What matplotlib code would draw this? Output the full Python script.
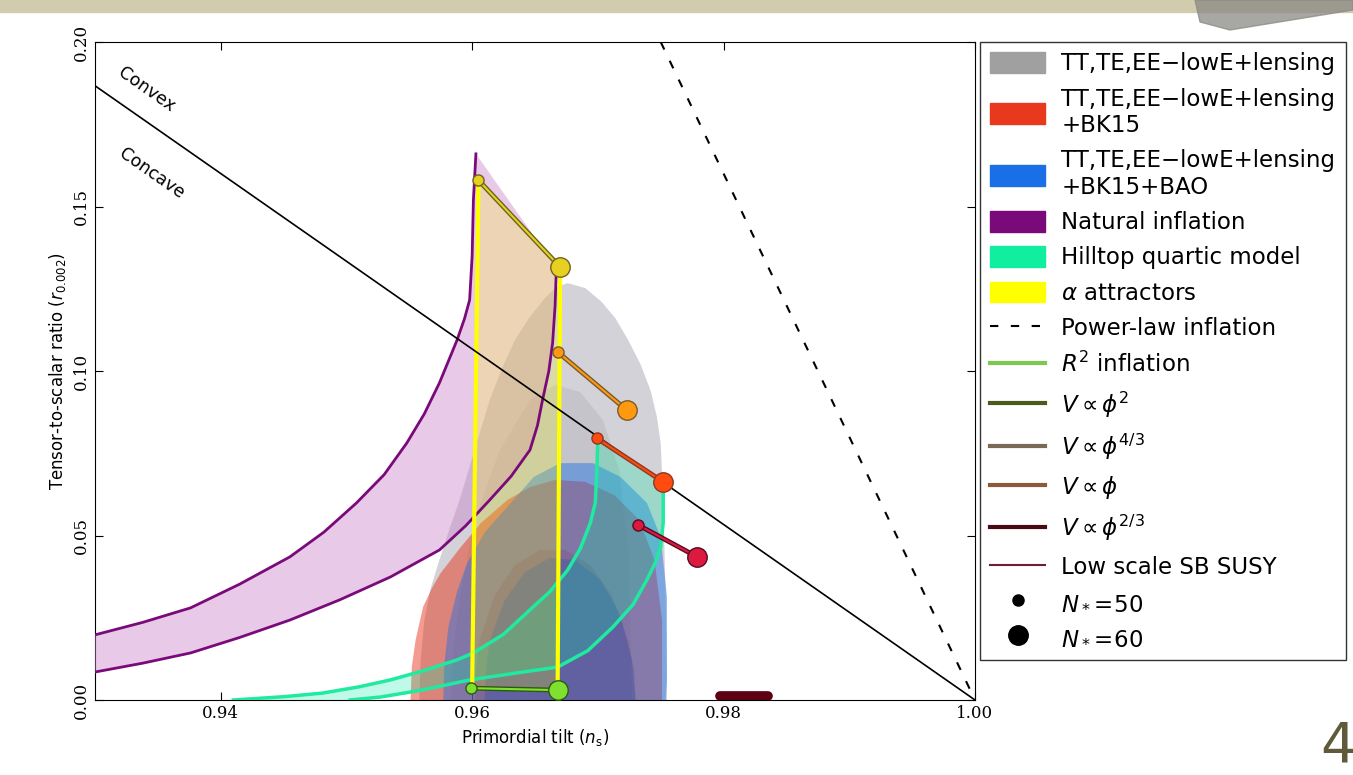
import matplotlib.pyplot as plt
from matplotlib.patches import Patch, Rectangle, Polygon
from matplotlib.lines import Line2D

# ---- data: (n_s, r) ----
# Planck TT,TE,EE+lowE+lensing (outer 95%, inner 68%)
tt_outer_ns = [0.9558, 0.9559, 0.9562, 0.9567, 0.9574, 0.9582, 0.9590, 0.9602, 0.9614, 0.9624, 0.9634,
               0.9646, 0.9658, 0.9667, 0.9676, 0.9690, 0.9703, 0.9714, 0.9724, 0.9734, 0.9742, 0.9747,
               0.9750, 0.9752, 0.9754, 0.9755]
tt_outer_r = [0.0, 0.0120, 0.0243, 0.0340, 0.0426, 0.0520, 0.0608, 0.0760, 0.0912, 0.1010, 0.1094,
              0.1165, 0.1222, 0.1255, 0.1267, 0.1252, 0.1210, 0.1160, 0.1095, 0.1020, 0.0940, 0.0860,
              0.0780, 0.0600, 0.0300, 0.0]
tt_inner_ns = [0.9583, 0.9585, 0.9590, 0.9602, 0.9622, 0.9646, 0.9666, 0.9686, 0.9704, 0.9717, 0.9725, 0.9727]
tt_inner_r = [0.0, 0.0150, 0.0304, 0.0547, 0.0760, 0.0912, 0.0958, 0.0936, 0.0851, 0.0699, 0.0426, 0.0]
# + BK15
bk_outer_ns = [0.9551, 0.9552, 0.9555, 0.9561, 0.9568, 0.9575, 0.9591, 0.9607, 0.9628, 0.9646, 0.9666,
               0.9690, 0.9713, 0.9733, 0.9745, 0.9751, 0.9751]
bk_outer_r = [0.0, 0.0100, 0.0182, 0.0283, 0.0340, 0.0386, 0.0465, 0.0538, 0.0608, 0.0647, 0.0669,
              0.0663, 0.0623, 0.0547, 0.0426, 0.0243, 0.0]
bk_inner_ns = [0.9602, 0.9603, 0.9606, 0.9618, 0.9634, 0.9654, 0.9674, 0.9694, 0.9711, 0.9724, 0.9729, 0.9730]
bk_inner_r = [0.0, 0.0090, 0.0182, 0.0319, 0.0410, 0.0456, 0.0456, 0.0410, 0.0319, 0.0182, 0.0090, 0.0]
# + BK15 + BAO
bao_outer_ns = [0.9577, 0.9578, 0.9581, 0.9588, 0.9596, 0.9610, 0.9628, 0.9649, 0.9670, 0.9696, 0.9718,
                0.9739, 0.9750, 0.9755, 0.9755, 0.9754]
bao_outer_r = [0.0, 0.0112, 0.0220, 0.0330, 0.0416, 0.0510, 0.0587, 0.0678, 0.0720, 0.0720, 0.0678,
               0.0599, 0.0495, 0.0313, 0.0061, 0.0]
bao_inner_ns = [0.9610, 0.9611, 0.9614, 0.9626, 0.9642, 0.9662, 0.9682, 0.9702, 0.9718, 0.9727, 0.9730]
bao_inner_r = [0.0, 0.0090, 0.0182, 0.0304, 0.0389, 0.0432, 0.0426, 0.0365, 0.0258, 0.0122, 0.0]

# natural inflation band
nat_upper_ns = [0.9300, 0.9338, 0.9376, 0.9415, 0.9455, 0.9482, 0.9508, 0.9530, 0.9548, 0.9562, 0.9574,
                0.9588, 0.9594, 0.9598, 0.9600, 0.9601, 0.9603]
nat_upper_r = [0.0198, 0.0236, 0.0280, 0.0352, 0.0435, 0.0510, 0.0599, 0.0685, 0.0781, 0.0870, 0.0964,
               0.1094, 0.1160, 0.1216, 0.1350, 0.1520, 0.1660]
nat_lower_ns = [0.9300, 0.9338, 0.9376, 0.9415, 0.9455, 0.9495, 0.9535, 0.9574, 0.9595, 0.9614, 0.9631,
                0.9646, 0.9652, 0.9656, 0.9661, 0.9664, 0.9666, 0.9667]
nat_lower_r = [0.0085, 0.0112, 0.0143, 0.0190, 0.0243, 0.0305, 0.0374, 0.0456, 0.0530, 0.0608, 0.0680,
               0.0760, 0.0835, 0.0912, 0.1000, 0.1085, 0.1200, 0.1313]

# hilltop quartic, N*=50 and N*=60
hill50_ns = [0.9410, 0.9450, 0.9481, 0.9510, 0.9535, 0.9562, 0.9588, 0.9601, 0.9625, 0.9646, 0.9662,
             0.9676, 0.9686, 0.9694, 0.9698, 0.9699, 0.9700]
hill50_r = [0.0, 0.0010, 0.0021, 0.0040, 0.0061, 0.0090, 0.0122, 0.0143, 0.0200, 0.0274, 0.0330,
            0.0395, 0.0460, 0.0538, 0.0600, 0.0680, 0.0790]
hill60_ns = [0.9503, 0.9527, 0.9560, 0.9598, 0.9635, 0.9668, 0.9692, 0.9712, 0.9728, 0.9739, 0.9746,
             0.9750, 0.9752, 0.9752]
hill60_r = [0.0, 0.0009, 0.0030, 0.0061, 0.0082, 0.0100, 0.0150, 0.0222, 0.0290, 0.0365, 0.0420,
            0.0465, 0.0540, 0.0663]

# alpha attractors (N*=50, N*=60 edges)
attr50_ns = [0.9600, 0.9605]
attr50_r = [0.0036, 0.1580]
attr60_ns = [0.9668, 0.9670]
attr60_r = [0.0030, 0.1316]

# monomial / R^2 / SUSY predictions at N*=50, N*=60
r2_ns, r2_r = [0.9599, 0.9668], [0.0036, 0.0030]
phi2_ns, phi2_r = [0.9605, 0.9670], [0.1580, 0.1316]
phi43_ns, phi43_r = [0.9668, 0.9723], [0.1058, 0.0881]
phi1_ns, phi1_r = [0.9699, 0.9752], [0.0796, 0.0663]
phi23_ns, phi23_r = [0.9732, 0.9779], [0.0532, 0.0435]
susy_ns, susy_r = [0.9797, 0.9835], [0.0012, 0.0012]

# convex/concave divider and power-law inflation
divide_ns, divide_r = [0.93, 1.00], [0.1867, 0.0]
powerlaw_ns, powerlaw_r = [0.975, 1.00], [0.20, 0.0]

fig = plt.figure(figsize=(13.53, 7.75), dpi=100)
fig.patch.set_facecolor('white')
# slide decoration (beige top band + grey brush at the right)
fig.patches.append(Rectangle((0, 1 - 12 / 775), 1, 12 / 775, transform=fig.transFigure,
                             color='#d2ccae', zorder=0))
fig.patches.append(Polygon([(1195 / 1353, 1), (1, 1), (1, 1 - 10 / 775), (1230 / 1353, 1 - 30 / 775),
                            (1200 / 1353, 1 - 22 / 775)], closed=True, transform=fig.transFigure,
                           color='#8a8a84', alpha=0.75, zorder=0))

ax = fig.add_axes([95 / 1353, 75 / 775, 880 / 1353, 658 / 775])

# data contours
ax.fill(tt_outer_ns, tt_outer_r, color='#b4b4be', alpha=0.6, lw=0, zorder=1)
ax.fill(tt_inner_ns, tt_inner_r, color='#8c8c96', alpha=0.2, lw=0, zorder=1)
ax.fill(bk_outer_ns, bk_outer_r, color='#e8381e', alpha=0.5, lw=0, zorder=2)
ax.fill(bk_inner_ns, bk_inner_r, color='#c0281a', alpha=0.3, lw=0, zorder=2)
ax.fill(bao_outer_ns, bao_outer_r, color='#1a6fe6', alpha=0.45, lw=0, zorder=3)
ax.fill(bao_inner_ns, bao_inner_r, color='#1050c0', alpha=0.25, lw=0, zorder=3)

# model regions
ax.fill(nat_upper_ns + nat_lower_ns[::-1], nat_upper_r + nat_lower_r[::-1],
        color='#cc88cc', alpha=0.45, lw=0, zorder=4)
ax.fill(hill50_ns + hill60_ns[::-1], hill50_r + hill60_r[::-1],
        color='#00e8a0', alpha=0.25, lw=0, zorder=4)
ax.fill(attr50_ns + attr60_ns[::-1], attr50_r + attr60_r[::-1],
        color='#ffff00', alpha=0.22, lw=0, zorder=4)

ax.plot(nat_upper_ns, nat_upper_r, color='#7a0a7a', lw=2, zorder=5)
ax.plot(nat_lower_ns, nat_lower_r, color='#7a0a7a', lw=2, zorder=5)
ax.plot(hill50_ns, hill50_r, color='#20eaa0', lw=2.5, zorder=5)
ax.plot(hill60_ns, hill60_r, color='#20eaa0', lw=2.5, zorder=5)
ax.plot(attr50_ns, attr50_r, color='#ffff00', lw=3, zorder=5)
ax.plot(attr60_ns, attr60_r, color='#ffff00', lw=3, zorder=5)

ax.plot(divide_ns, divide_r, color='black', lw=1.2, zorder=6)
ax.plot(powerlaw_ns, powerlaw_r, color='black', lw=1.5, ls=(0, (4, 6)), zorder=6)

models = [
    (r2_ns, r2_r, '#2e5a10', '#7fe030'),
    (phi2_ns, phi2_r, '#6b6420', '#e8d020'),
    (phi43_ns, phi43_r, '#7a5a30', '#ff9a10'),
    (phi1_ns, phi1_r, '#8b3a20', '#ff4a10'),
    (phi23_ns, phi23_r, '#5a0a20', '#dc1a40'),
]
for ns, r, lc, fc in models:
    ax.plot(ns, r, color=lc, lw=3.5, zorder=7)
    ax.plot(ns, r, color=fc, lw=1.5, zorder=7)
    ax.plot(ns[0], r[0], 'o', ms=8, mfc=fc, mec=lc, mew=1, zorder=8)
    ax.plot(ns[1], r[1], 'o', ms=14, mfc=fc, mec=lc, mew=1, zorder=8)
ax.plot(susy_ns, susy_r, color='#5c0012', lw=7, solid_capstyle='round', zorder=7)

ax.text(0.9341, 0.1855, 'Convex', rotation=-35, ha='center', va='center', fontsize=12.5, zorder=9)
ax.text(0.9345, 0.1600, 'Concave', rotation=-35, ha='center', va='center', fontsize=12.5, zorder=9)

ax.set_xlim(0.93, 1.00)
ax.set_ylim(0.0, 0.20)
ax.set_xticks([0.94, 0.96, 0.98, 1.00])
ax.set_yticks([0.00, 0.05, 0.10, 0.15, 0.20])
ax.tick_params(direction='in', top=True, right=True, length=6, labelsize=12)
for lab in ax.get_xticklabels() + ax.get_yticklabels():
    lab.set_family('DejaVu Serif')
for lab in ax.get_yticklabels():
    lab.set_rotation(90)
    lab.set_va('center')
ax.set_xlabel(r'Primordial tilt $(n_\mathrm{s})$', fontsize=12)
ax.set_ylabel(r'Tensor-to-scalar ratio $(r_{0.002})$', fontsize=12)

handles = [
    Patch(color='#a0a0a0'),
    Patch(color='#e8381e'),
    Patch(color='#1a6fe6'),
    Patch(color='#7a0a7a'),
    Patch(color='#10eea0'),
    Patch(color='#ffff00'),
    Line2D([], [], color='black', lw=1.5, ls=(0, (4, 6))),
    Line2D([], [], color='#7ec850', lw=3),
    Line2D([], [], color='#4b5a1e', lw=3),
    Line2D([], [], color='#7a6a55', lw=3),
    Line2D([], [], color='#8b5a3c', lw=3),
    Line2D([], [], color='#4a0a14', lw=3),
    Line2D([], [], color='#6b1f3a', lw=1.5),
    Line2D([], [], color='black', marker='o', ls='', ms=8),
    Line2D([], [], color='black', marker='o', ls='', ms=14),
]
labels = [
    'TT,TE,EE\u2212lowE+lensing',
    'TT,TE,EE\u2212lowE+lensing\n+BK15',
    'TT,TE,EE\u2212lowE+lensing\n+BK15+BAO',
    'Natural inflation',
    'Hilltop quartic model',
    r'$\alpha$ attractors',
    'Power-law inflation',
    r'$R^2$ inflation',
    r'$V\propto\phi^2$',
    r'$V\propto\phi^{4/3}$',
    r'$V\propto\phi$',
    r'$V\propto\phi^{2/3}$',
    'Low scale SB SUSY',
    r'$N_*\!=\!50$',
    r'$N_*\!=\!60$',
]
leg = fig.legend(handles, labels, loc='upper left', bbox_to_anchor=(980 / 1353, 733 / 775),
                 borderaxespad=0, fontsize=16.5, frameon=True, fancybox=False, edgecolor='black',
                 handlelength=2.4, handleheight=1.0, labelspacing=0.53, borderpad=0.45,
                 handletextpad=0.7)
leg.get_frame().set_linewidth(1.0)

fig.text(1338 / 1353, 2 / 775, '4', fontsize=40, color='#5e5a3a', ha='center', va='bottom')

fig.savefig('out.png', dpi=100)
